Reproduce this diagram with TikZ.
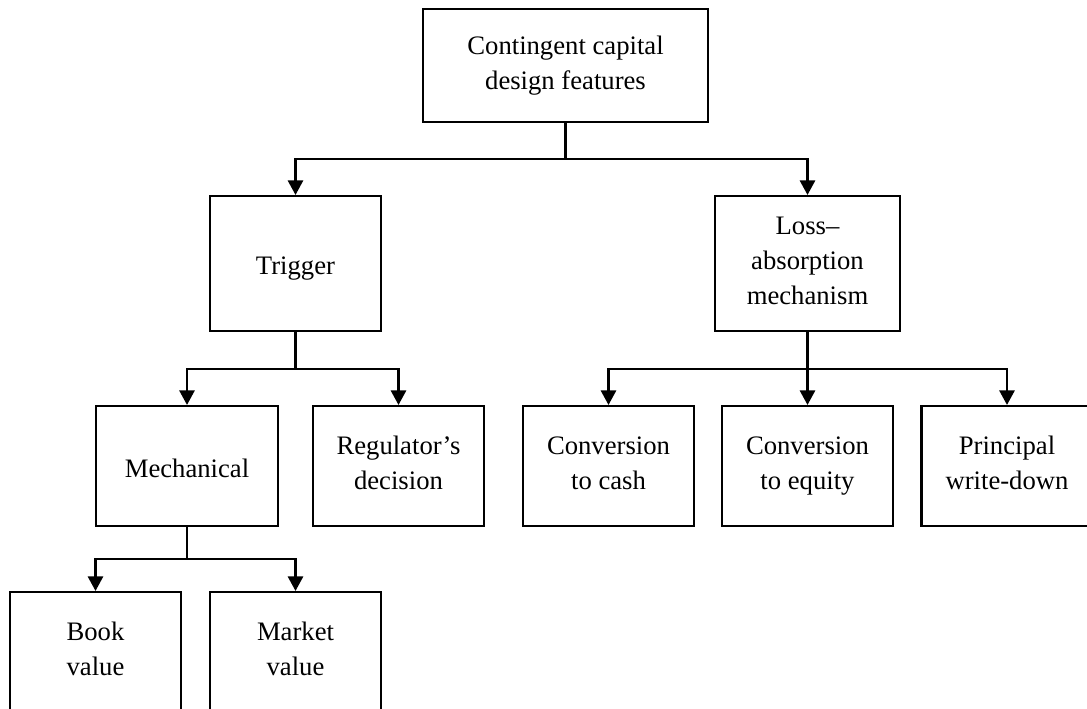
\documentclass[tikz,border=0pt]{standalone}
\usepackage{fontspec}
\setmainfont{Liberation Serif}
\usetikzlibrary{arrows.meta,positioning}

\tikzset{
  box/.style={draw, line width=1.6pt, align=center, inner sep=2pt, font=\fontsize{20}{26.25}\selectfont,
    execute at begin node=\rule{0pt}{21.5pt}, execute at end node=\rule[-4.75pt]{0pt}{4.75pt}},
  link/.style={line width=1.6pt, -{Triangle[width=11.5pt,length=11pt]}}
}

\begin{document}
\begin{tikzpicture}[x=0.75pt, y=-0.75pt]
\useasboundingbox (0,0) rectangle (1087,708);
\clip (0,0) rectangle (1087,708);

% Boxes
\node[box, minimum width=213.75pt, minimum height=84.75pt] (design) at (565.5,65.5) {Contingent capital\\design features};
\node[box, minimum width=128.25pt, minimum height=101.25pt] (trigger) at (295.5,263.5) {Trigger};
\node[box, minimum width=138.75pt, minimum height=101.25pt] (loss) at (807.5,263.5) {Loss–\\absorption\\mechanism};

\node[box, minimum width=136.5pt, minimum height=90pt] (mech) at (187,466) {Mechanical};
\node[box, minimum width=128.25pt, minimum height=90pt] (reg) at (398.5,466) {Regulator’s\\decision};
\node[box, minimum width=128.25pt, minimum height=90pt] (cash) at (608.5,466) {Conversion\\to cash};
\node[box, minimum width=128.25pt, minimum height=90pt] (equity) at (807.5,466) {Conversion\\to equity};
\node[box, minimum width=128.25pt, minimum height=90pt] (writedown) at (1007,466) {Principal\\write-down};

\node[box, minimum width=128.25pt, minimum height=90pt] (book) at (95.5,652) {Book\\value};
\node[box, minimum width=128.25pt, minimum height=90pt] (market) at (295.5,652) {Market\\value};

% Links
\draw[link] (design.south) -- ++(0,36) -| (trigger.north);
\draw[link] (design.south) -- ++(0,36) -| (loss.north);

\draw[link] (trigger.south) -- ++(0,37) -| (mech.north);
\draw[link] (trigger.south) -- ++(0,37) -| (reg.north);

\draw[link] (loss.south) -- ++(0,37) -| (cash.north);
\draw[link] (loss.south) -- (equity.north);
\draw[link] (loss.south) -- ++(0,37) -| (writedown.north);

\draw[link] (mech.south) -- ++(0,32) -| (book.north);
\draw[link] (mech.south) -- ++(0,32) -| (market.north);

\end{tikzpicture}
\end{document}
